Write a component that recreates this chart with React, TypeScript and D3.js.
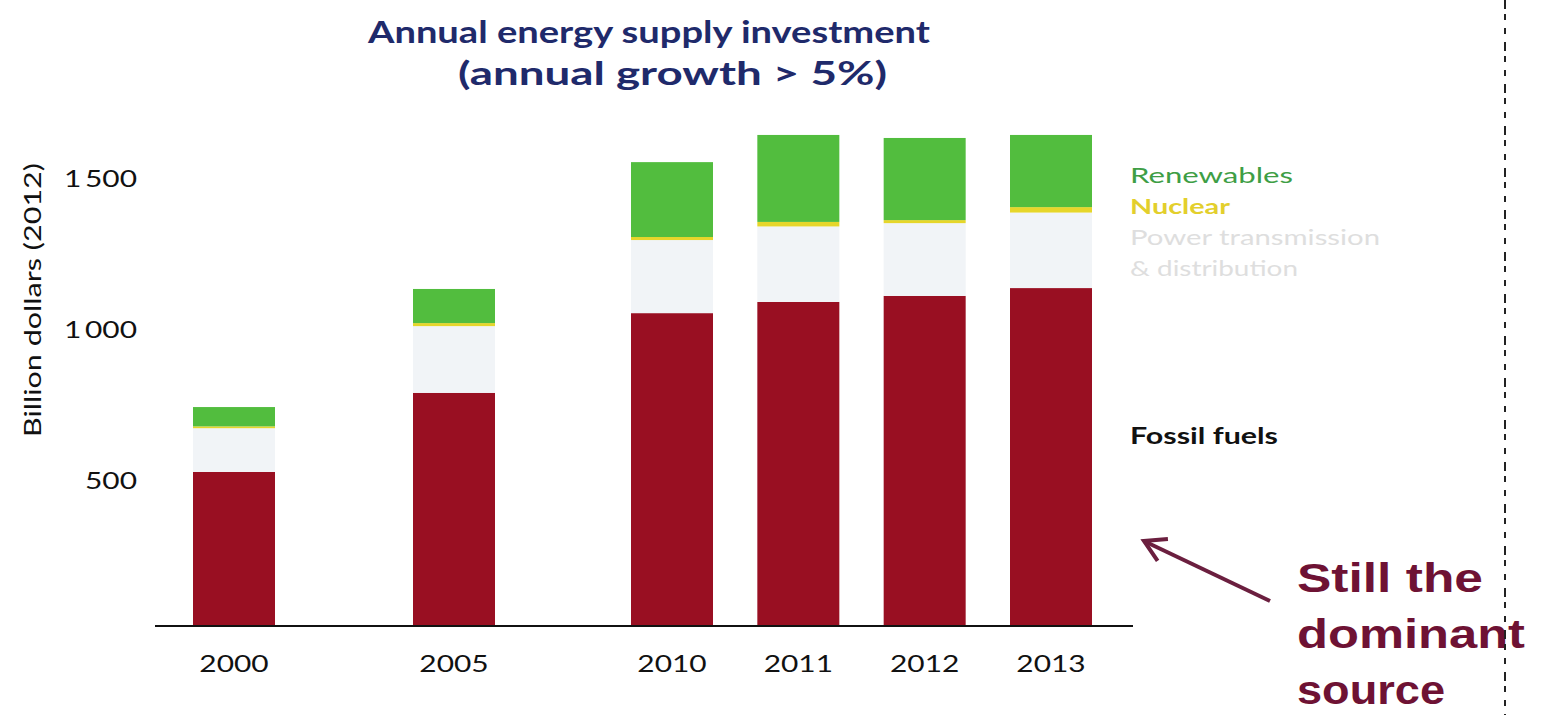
import React from "react";
import * as d3 from "d3";

const years = ["2000", "2005", "2010", "2011", "2012", "2013"];
const fossil = [510, 772, 1036, 1073, 1093, 1119];
const powerTD = [145, 221, 242, 250, 241, 250];
const nuclear = [6, 10, 10, 15, 10, 18];
const renewables = [64, 113, 248, 288, 272, 239];
const yTicks = [500, 1000, 1500];
const seriesKeys = ["fossil", "powerTD", "nuclear", "renewables"];
const legendLabels = [
  { key: "renewables", text: "Renewables" },
  { key: "nuclear", text: "Nuclear" },
  { key: "powerTD", text: "Power transmission" },
  { key: "powerTD", text: "& distribution" },
];
const annotationLines = ["Still the", "dominant", "source"];

const W = 1542;
const H = 715;

export default function App() {
  const rows = years.map((yr, i) => ({
    year: +yr,
    label: yr,
    fossil: fossil[i],
    powerTD: powerTD[i],
    nuclear: nuclear[i],
    renewables: renewables[i],
  }));
  const layers = d3.stack<any>().keys(seriesKeys)(rows);

  const x = d3
    .scaleLinear()
    .domain([2000, 2005, 2010, 2013])
    .range([234, 454, 672, 1051]);
  const y = d3.scaleLinear().domain([0, 1500]).range([626, 173]);
  const barW = 82;

  const fills: Record<string, string> = {
    fossil: "#990f22",
    powerTD: "#f1f4f7",
    nuclear: "#e6d62a",
    renewables: "#52bd3e",
  };
  const legendColors: Record<string, string> = {
    renewables: "#3e9e45",
    nuclear: "#e3cf2c",
    powerTD: "#dedede",
  };
  const legendWidths = [163, 100, 250, 168];

  const sans = "Lato, 'Noto Sans', sans-serif";
  const sx = 1.3;

  const dashY = d3.range(0, H, 14);

  // arrow geometry
  const tail: [number, number] = [1270, 601];
  const tip: [number, number] = [1144, 541];
  const ang = Math.atan2(tail[1] - tip[1], tail[0] - tip[0]);
  const hl = 24;
  const spread = Math.PI / 6;
  const h1 = [tip[0] + hl * Math.cos(ang - spread), tip[1] + hl * Math.sin(ang - spread)];
  const h2 = [tip[0] + hl * Math.cos(ang + spread), tip[1] + hl * Math.sin(ang + spread)];
  const arrowColor = "#6b1f3f";

  const annWidths = [186, 228, 148];

  return (
    <div style={{ position: "absolute", left: 0, top: 0 }}>
      <svg width={W} height={H} style={{ display: "block", background: "#fff" }}>
        {/* Title */}
        <text
          x={368}
          y={43}
          textLength={562}
          lengthAdjust="spacingAndGlyphs"
          fontFamily={sans}
          fontWeight={700}
          fontSize={31}
          fill="#1f2a6b"
        >
          Annual energy supply investment
        </text>
        <text
          x={458}
          y={85}
          textLength={429}
          lengthAdjust="spacingAndGlyphs"
          fontFamily={sans}
          fontWeight={700}
          fontSize={33}
          fill="#1f2a6b"
        >
          (annual growth &gt; 5%)
        </text>

        {/* Y axis label */}
        <g transform="translate(41,300) rotate(-90)">
          <text
            x={-137}
            y={0}
            textLength={274}
            lengthAdjust="spacingAndGlyphs"
            fontFamily={sans}
            fontSize={23}
            fill="#111"
          >
            Billion dollars (2012)
          </text>
        </g>

        {/* Y tick labels */}
        {yTicks.map((t) => (
          <g key={t} transform={`translate(137,${y(t) + 8}) scale(${sx},1)`}>
            <text
              x={0}
              y={0}
              textAnchor="end"
              dominantBaseline="middle"
              fontFamily={sans}
              fontSize={23}
              fill="#111"
            >
              {d3.format(",")(t).replace(",", "\u2009")}
            </text>
          </g>
        ))}

        {/* Bars */}
        {layers.map((layer) => (
          <g key={layer.key}>
            {layer.map((d: any, i: number) => {
              const top = y(d[1]);
              const bottom = y(d[0]);
              return (
                <rect
                  key={i}
                  x={x(rows[i].year) - barW / 2}
                  y={top}
                  width={barW}
                  height={Math.max(0, bottom - top)}
                  fill={fills[layer.key]}
                />
              );
            })}
          </g>
        ))}

        {/* X axis line */}
        <line x1={155} x2={1133} y1={y(0)} y2={y(0)} stroke="#111" strokeWidth={2} />

        {/* X labels */}
        {rows.map((r) => (
          <g key={r.label} transform={`translate(${x(r.year)},666) scale(${sx},1)`}>
            <text
              x={0}
              y={0}
              textAnchor="middle"
              dominantBaseline="middle"
              fontFamily={sans}
              fontSize={23}
              fill="#111"
            >
              {r.label}
            </text>
          </g>
        ))}

        {/* Legend */}
        {legendLabels.map((l, i) => (
          <text
            key={i}
            x={1130}
            y={178 + i * 31}
            dominantBaseline="middle"
            textLength={legendWidths[i]}
            lengthAdjust="spacingAndGlyphs"
            fontFamily={sans}
            fontWeight={l.key === "nuclear" ? 700 : 400}
            fontSize={21}
            fill={legendColors[l.key]}
          >
            {l.text}
          </text>
        ))}
        <text
          x={1130}
          y={438}
          dominantBaseline="middle"
          textLength={148}
          lengthAdjust="spacingAndGlyphs"
          fontFamily={sans}
          fontWeight={700}
          fontSize={22}
          fill="#111"
        >
          Fossil fuels
        </text>

        {/* Arrow */}
        <line
          x1={tail[0]}
          y1={tail[1]}
          x2={tip[0] + 3}
          y2={tip[1] + 1.5}
          stroke={arrowColor}
          strokeWidth={4}
        />
        <path
          d={`M${h1[0]},${h1[1]} L${tip[0]},${tip[1]} L${h2[0]},${h2[1]}`}
          fill="none"
          stroke={arrowColor}
          strokeWidth={4}
          strokeLinejoin="miter"
        />

        {/* Annotation */}
        {annotationLines.map((t, i) => (
          <text
            key={t}
            x={1297}
            y={592 + i * 56}
            textLength={annWidths[i]}
            lengthAdjust="spacingAndGlyphs"
            fontFamily="'Liberation Sans', Arial, sans-serif"
            fontWeight={700}
            fontSize={41}
            fill="#6e1234"
          >
            {t}
          </text>
        ))}

        {/* Dashed separator */}
        {dashY.map((yy, i) => (
          <line
            key={i}
            x1={1505}
            x2={1505}
            y1={yy}
            y2={yy + (i % 3 === 0 ? 9 : 6)}
            stroke="#222"
            strokeWidth={2}
          />
        ))}
      </svg>
    </div>
  );
}
